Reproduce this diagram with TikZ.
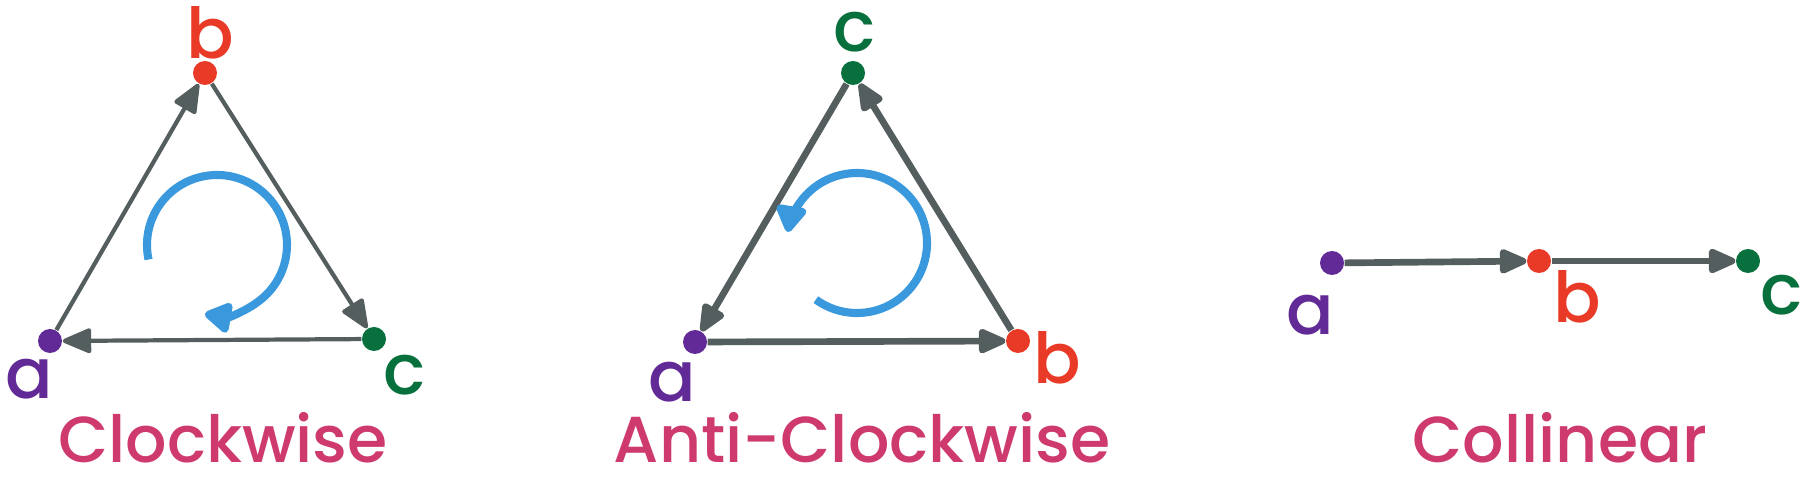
\documentclass[tikz,border=0pt]{standalone}
\usepackage{fontspec}
\setmainfont{Poppins}
\newfontfamily\handfont{Poppins Medium}
\usepackage{tikz}
\usetikzlibrary{arrows.meta}
\definecolor{ptpurple}{RGB}{98,42,150}
\definecolor{ptred}{RGB}{232,58,38}
\definecolor{ptgreen}{RGB}{8,112,60}
\definecolor{edgegray}{RGB}{84,94,94}
\definecolor{turnblue}{RGB}{58,152,220}
\definecolor{titlepink}{RGB}{206,58,110}

\begin{document}
\begin{tikzpicture}[
dot/.style={circle, fill=#1, inner sep=0pt, minimum size=0.24cm},
lbl/.style={font=\handfont\fontsize{20}{20}\selectfont, text=#1, inner sep=0pt},
heading/.style={font=\handfont\fontsize{18.5}{18.5}\selectfont, text=titlepink, anchor=base, inner sep=0pt, text depth=0pt},
link/.style={-{Triangle[length=0.32cm,width=0.26cm,round]}, line width=#1, draw=edgegray},
spin/.style={-{Triangle[length=0.3cm,width=0.34cm,round]}, line width=2.3pt, draw=turnblue}
]
\useasboundingbox (0,0) rectangle (18.18,4.85);

% clockwise
\node[dot=ptpurple] (cwa) at (0.50,1.44) {};
\node[dot=ptred]    (cwb) at (2.05,4.12) {};
\node[dot=ptgreen]  (cwc) at (3.74,1.46) {};
\node[lbl=ptpurple] (cwla) at (0.29,1.06) {a};
\node[lbl=ptred]    (cwlb) at (2.10,4.52) {b};
\node[lbl=ptgreen]  (cwlc) at (4.05,1.10) {c};

\draw[link=1.2pt] (cwa) -- (cwb);
\draw[link=1.2pt] (cwb) -- (cwc);
\draw[link=1.2pt] (cwc) -- (cwa);

\coordinate (cwturn) at (2.17,2.40);
\draw[spin] ([shift={(192:0.7)}]cwturn) arc[start angle=192, end angle=-100, radius=0.7];

\node[heading] (cwname) at (2.23,0.22) {Clockwise};

% anti-clockwise
\node[dot=ptpurple] (aca) at (6.95,1.43) {};
\node[dot=ptred]    (acb) at (10.18,1.44) {};
\node[dot=ptgreen]  (acc) at (8.53,4.12) {};
\node[lbl=ptpurple] (acla) at (6.72,1.03) {a};
\node[lbl=ptred]    (aclb) at (10.57,1.27) {b};
\node[lbl=ptgreen]  (aclc) at (8.55,4.53) {c};

\draw[link=1.9pt] (acc) -- (aca);
\draw[link=1.9pt] (aca) -- (acb);
\draw[link=1.9pt] (acb) -- (acc);

\coordinate (acturn) at (8.57,2.42);
\draw[spin] ([shift={(234:0.7)}]acturn) arc[start angle=234, end angle=531, radius=0.7];

\node[heading] (acname) at (8.62,0.22) {Anti-Clockwise};

% collinear
\node[dot=ptpurple] (cla) at (13.32,2.22) {};
\node[dot=ptred]    (clb) at (15.39,2.24) {};
\node[dot=ptgreen]  (clc) at (17.48,2.24) {};
\node[lbl=ptpurple] (clla) at (13.10,1.70) {a};
\node[lbl=ptred]    (cllb) at (15.77,1.88) {b};
\node[lbl=ptgreen]  (cllc) at (17.82,1.90) {c};

\draw[link=1.9pt] (cla) -- (clb);
\draw[link=1.9pt] (clb) -- (clc);

\node[heading] (clname) at (15.60,0.22) {Collinear};

\end{tikzpicture}
\end{document}
